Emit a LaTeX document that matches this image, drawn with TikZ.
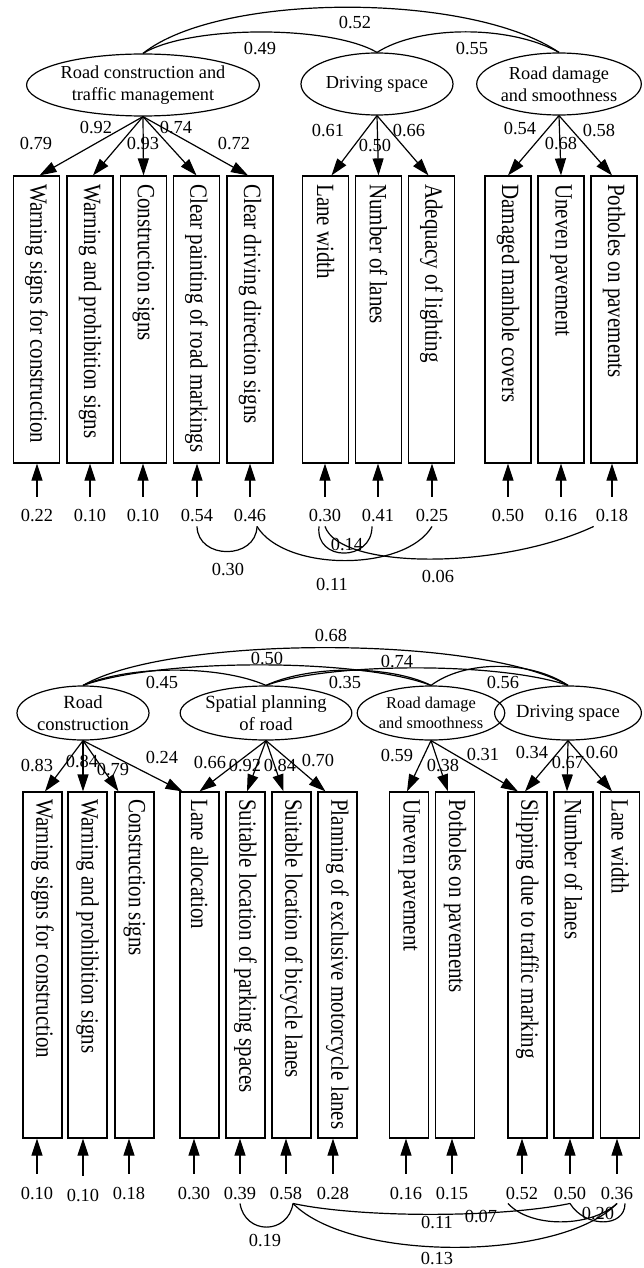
\documentclass[tikz,border=0pt]{standalone}
\usepackage{fontspec}
\setmainfont{Liberation Serif}
\usetikzlibrary{shapes.geometric,arrows.meta}
\begin{document}
\begin{tikzpicture}[x=1pt,y=-1pt,
  lat/.style={ellipse,draw,line width=1.2pt,inner sep=0pt,align=center,font=\fontsize{18.3}{22}\selectfont},
  obsA/.style={draw,line width=1.2pt,minimum width=46pt,minimum height=287pt,inner sep=0pt},
  obsB/.style={draw,line width=1.2pt,minimum width=39pt,minimum height=346pt,inner sep=0pt},
  vtext/.style={rotate=-90,yscale=1.18,anchor=west,inner sep=0pt,font=\fontsize{21}{24}\selectfont},
  num/.style={inner sep=0pt,font=\fontsize{18.4}{20}\selectfont},
  err/.style={inner xsep=2pt,inner ysep=4pt,font=\fontsize{18.4}{20}\selectfont},
  load/.style={line width=1.2pt,-{Triangle[length=17pt,width=11pt]}},
  erra/.style={load,shorten <=9pt},
  cov/.style={line width=1.2pt}
]
\fill[white] (0,0) rectangle (643,1268);
\useasboundingbox (0,0) rectangle (643,1268);

%================ TOP MODEL ================
\foreach \n/\x/\t in {
a1/36.5/Warning signs for construction,
a2/90/Warning and prohibition signs,
a3/143.5/Construction signs,
a4/196.5/Clear painting of road markings,
a5/250/Clear driving direction signs,
a6/325.5/Lane width,
a7/378.5/Number of lanes,
a8/431.5/Adequacy of lighting,
a9/508/Damaged manhole covers,
a10/561/Uneven pavement,
a11/614/Potholes on pavements}{
  \node[obsA] (\n) at (\x,319.5) {};
  \node[vtext] (t\n) at (\x,184) {\t};
}

\node[lat,minimum width=230pt,minimum height=62pt] (L1) at (143,85) {Road construction and\\traffic management};
\node[lat,minimum width=152pt,minimum height=62pt] (L2) at (377,84) {Driving space};
\node[lat,minimum width=150pt,minimum height=62pt] (L3) at (559,84) {Road damage\\and smoothness};

\draw[load] (L1.south) -- ([xshift=3pt]a1.north);
\draw[load] (L1.south) -- ([xshift=3pt]a2.north);
\draw[load] (L1.south) -- (a3.north);
\draw[load] (L1.south) -- (a4.north);
\draw[load] (L1.south) -- ([xshift=-2pt]a5.north);
\draw[load] (L2.south) -- ([xshift=6pt]a6.north);
\draw[load] (L2.south) -- (a7.north);
\draw[load] (L2.south) -- ([xshift=-3pt]a8.north);
\draw[load] (L3.south) -- (a9.north);
\draw[load] (L3.south) -- (a10.north);
\draw[load] (L3.south) -- ([xshift=-2pt]a11.north);

\node[num] (la1) at (36,144) {0.79};
\node[num] (la2) at (96,128) {0.92};
\node[num] (la3) at (143,144) {0.93};
\node[num] (la4) at (176,128) {0.74};
\node[num] (la5) at (234,144) {0.72};
\node[num] (la6) at (328,131) {0.61};
\node[num] (la7) at (375,146) {0.50};
\node[num] (la8) at (409,131) {0.66};
\node[num] (la9) at (520,129) {0.54};
\node[num] (la10) at (561,144) {0.68};
\node[num] (la11) at (599,131) {0.58};

\draw[cov] (L1.north) .. controls (190,25) and (330,25) .. (L2.north);
\draw[cov] (L1.north) .. controls (220,-8) and (470,-8) .. (L3.north);
\draw[cov] (L2.north) .. controls (420,25) and (510,25) .. (L3.north);
\node[num] (c12) at (260,49) {0.49};
\node[num] (c13) at (355,23) {0.52};
\node[num] (c23) at (472,49) {0.55};

\foreach \n/\x/\v/\b in {
e1/37/0.22/a1, e2/90/0.10/a2, e3/143/0.10/a3, e4/197/0.54/a4, e5/250/0.46/a5,
e6/325/0.30/a6, e7/378/0.41/a7, e8/432/0.25/a8,
e9/508/0.50/a9, e10/561/0.16/a10, e11/612/0.18/a11}{
  \node[err] (\n) at (\x,516) {\v};
  \draw[erra] (\n) -- (\n |- \b.south);
}

\draw[cov] (e4.south) .. controls (198,560) and (256,560) .. ([xshift=7pt]e5.south);
\draw[cov] ([xshift=7pt]e5.south) .. controls (285,572) and (405,572) .. (e8.south);
\draw[cov] ([xshift=-6pt]e6.south) .. controls (315,562) and (372,562) .. ([xshift=-6pt]e7.south);
\draw[cov] (e6.south) .. controls (340,570) and (500,570) .. (e11.south west);
\node[num] (ce45) at (228,570) {0.30};
\node[num] (ce58) at (332,585) {0.11};
\node[num] (ce67) at (347,545) {0.14};
\node[num] (ce611) at (438,577) {0.06};

%================ BOTTOM MODEL ================
\foreach \n/\x/\t in {
b1/42.5/Warning signs for construction,
b2/87.5/Warning and prohibition signs,
b3/134.5/Construction signs,
b4/199.5/Lane allocation,
b5/245.5/Suitable location of parking spaces,
b6/291.5/Suitable location of bicycle lanes,
b7/337.5/Planning of exclusive motorcycle lanes,
b8/409/Uneven pavement,
b9/455/Potholes on pavements,
b10/527.5/Slipping due to traffic marking,
b11/573.5/Number of lanes,
b12/620/Lane width}{
  \node[obsB] (\n) at (\x,965) {};
  \node[vtext] (t\n) at (\x,799) {\t};
}

\node[lat,font=\fontsize{18.6}{22}\selectfont,minimum width=132pt,minimum height=54pt] (M1) at (83,713) {Road\\construction};
\node[lat,font=\fontsize{18.6}{22}\selectfont,minimum width=152pt,minimum height=54pt] (M2) at (266,713) {Spatial planning\\of road};
\node[lat,font=\fontsize{16.4}{20}\selectfont,minimum width=128pt,minimum height=54pt] (M3) at (431,713) {Road damage\\and smoothness};
\node[lat,font=\fontsize{18.6}{22}\selectfont,minimum width=130pt,minimum height=54pt] (M4) at (568,713) {Driving space};

\draw[load] (M1.south) -- ([xshift=2.5pt]b1.north);
\draw[load] (M1.south) -- ([xshift=-4.5pt]b2.north);
\draw[load] (M1.south) -- ([xshift=-16pt]b3.north);
\draw[load] (M1.south) -- ([xshift=-17pt]b4.north);
\draw[load] (M2.south) -- (b4.north);
\draw[load] (M2.south) -- ([xshift=1.5pt]b5.north);
\draw[load] (M2.south) -- ([xshift=-8pt]b6.north);
\draw[load] (M2.south) -- ([xshift=-12pt]b7.north);
\draw[load] (M3.south) -- ([xshift=-2pt]b8.north);
\draw[load] (M3.south) -- ([xshift=-7pt]b9.north);
\draw[load] (M3.south) -- ([xshift=-9.5pt]b10.north);
\draw[load] (M4.south) -- ([xshift=-2.5pt]b10.north);
\draw[load] (M4.south) -- ([xshift=-6.5pt]b11.north);
\draw[load] (M4.south) -- ([xshift=-8pt]b12.north);

\node[num] (lb1) at (37,766) {0.83};
\node[num] (lb2) at (82,762) {0.84};
\node[num] (lb3) at (113,770) {0.79};
\node[num] (lb4) at (162,758) {0.24};
\node[num] (lb5) at (210,763) {0.66};
\node[num] (lb6) at (245,766) {0.92};
\node[num] (lb7) at (280,766) {0.84};
\node[num] (lb8) at (318,761) {0.70};
\node[num] (lb9) at (397,756) {0.59};
\node[num] (lb10) at (443,766) {0.38};
\node[num] (lb11) at (483,755) {0.31};
\node[num] (lb12) at (532,753) {0.34};
\node[num] (lb13) at (568,763) {0.67};
\node[num] (lb14) at (602,753) {0.60};

\draw[cov] (M1.north) .. controls (170,635) and (480,635) .. (M4.north);
\draw[cov] (M1.north) .. controls (160,658) and (360,658) .. (M3.north);
\draw[cov] (M1.north) .. controls (130,665) and (220,665) .. (M2.north);
\draw[cov] (M2.north) .. controls (310,665) and (390,665) .. (M3.north);
\draw[cov] (M2.north) .. controls (330,662) and (500,662) .. (M4.north);
\draw[cov] (M3.north) .. controls (465,660) and (530,660) .. (M4.north);
\node[num] (d14) at (331,636) {0.68};
\node[num] (d13) at (267,659) {0.50};
\node[num] (d12) at (162,683) {0.45};
\node[num] (d23) at (345,683) {0.35};
\node[num] (d24) at (397,662) {0.74};
\node[num] (d34) at (503,683) {0.56};

\foreach \n/\x/\y/\v/\b in {
f1/37/1193/0.10/b1, f2/83/1195/0.10/b2, f3/129/1193/0.18/b3, f4/194/1193/0.30/b4,
f5/240/1193/0.39/b5, f6/286/1193/0.58/b6, f7/333/1193/0.28/b7,
f8/406/1193/0.16/b8, f9/452/1193/0.15/b9,
f10/522/1193/0.52/b10, f11/570/1193/0.50/b11, f12/617/1193/0.36/b12}{
  \node[err] (\n) at (\x,\y) {\v};
  \draw[erra] (\n) -- (\n |- \b.south);
}

\draw[cov] (f5.south) .. controls (245,1235) and (288,1235) .. ([xshift=7pt]f6.south);
\draw[cov] ([xshift=7pt]f6.south) .. controls (360,1218) and (500,1218) .. (f11.south);
\draw[cov] ([xshift=7pt]f6.south) .. controls (350,1262) and (560,1262) .. (f12.south);
\draw[cov] ([xshift=-14pt]f10.south) .. controls (530,1228) and (590,1228) .. (f12.south);
\draw[cov] (f11.south) .. controls (585,1228) and (625,1228) .. ([xshift=8pt]f12.south);
\node[num] (g56) at (265,1240) {0.19};
\node[num] (g611) at (437,1222) {0.11};
\node[num] (g612) at (437,1258) {0.13};
\node[num] (g1012) at (481,1216) {0.07};
\node[num] (g1112) at (598,1213) {0.20};
\end{tikzpicture}
\end{document}
